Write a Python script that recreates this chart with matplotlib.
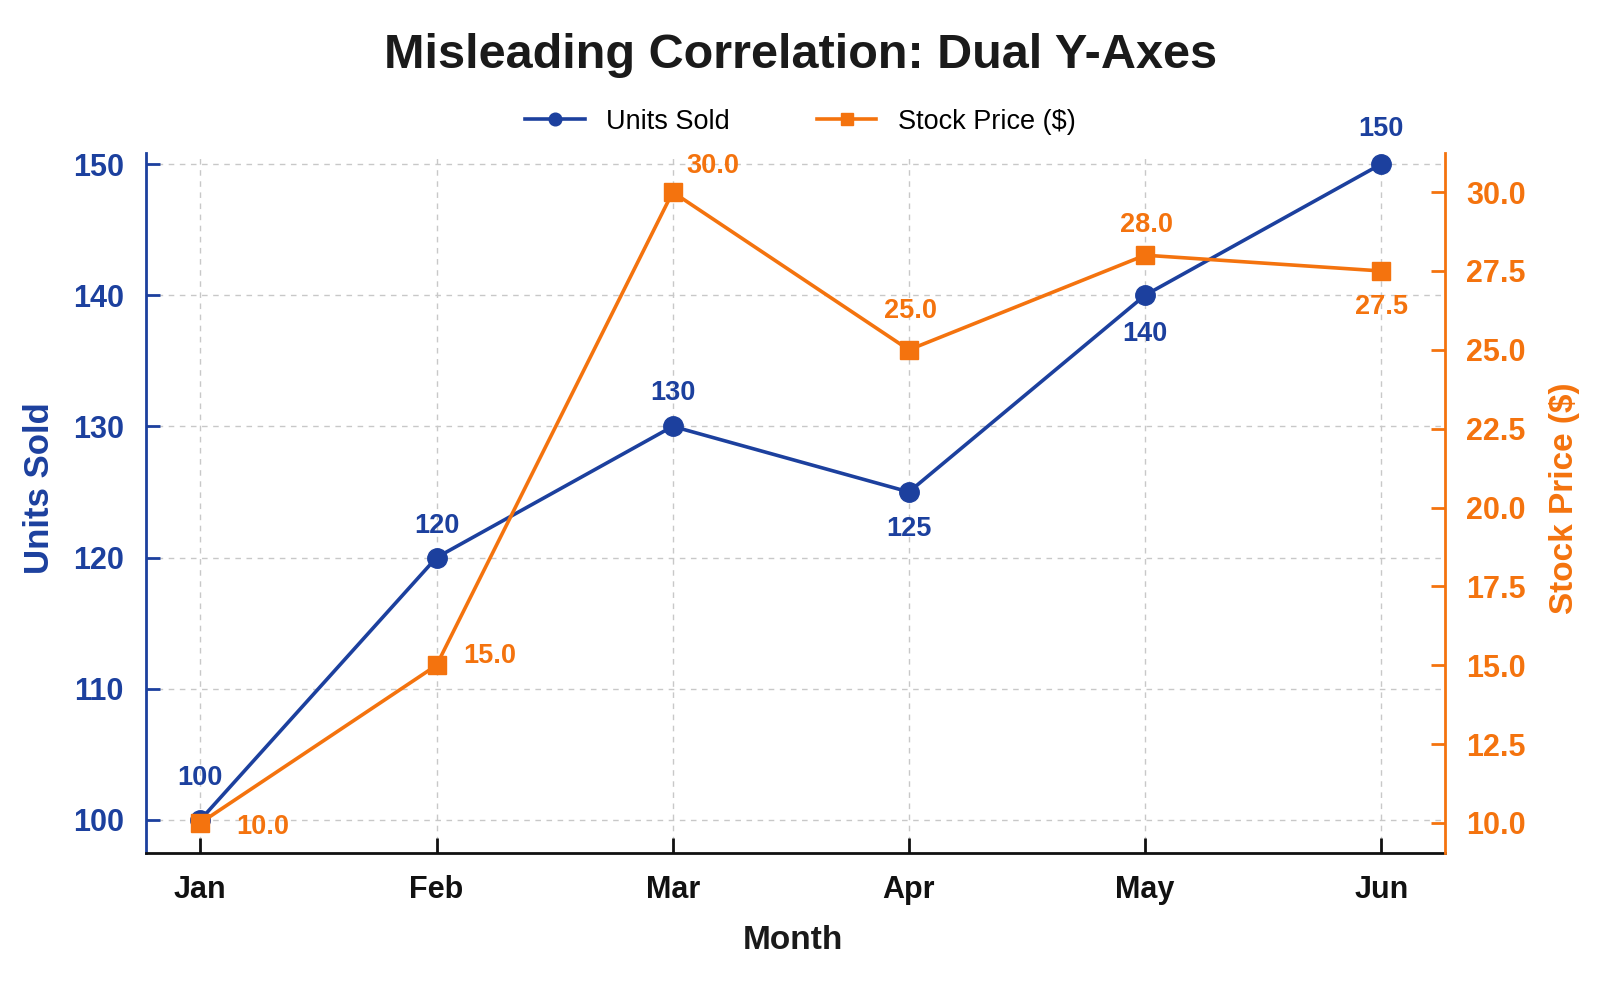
import matplotlib
matplotlib.use("Agg")
import matplotlib.pyplot as plt

plt.rcParams["font.family"] = ["Liberation Sans", "DejaVu Sans"]

months = ["Jan", "Feb", "Mar", "Apr", "May", "Jun"]
units_sold = [100, 120, 130, 125, 140, 150]
stock_price = [10.0, 15.0, 30.0, 25.0, 28.0, 27.5]

BLUE = "#1c409e"
ORANGE = "#f4730e"

# label offsets in points (layout only)
units_offsets = [(0, 30), (0, 23), (0, 24), (0, -27), (0, -28), (0, 25)]
stock_offsets = [(45, -3), (38, 7), (29, 19), (1, 28), (1, 22), (0, -26)]

fig = plt.figure(figsize=(16.01, 9.82), dpi=100)
ax = fig.add_axes([0.0912, 0.1314, 0.8114, 0.7128])
ax2 = ax.twinx()

x = list(range(len(months)))

ax.plot(x, units_sold, color=BLUE, lw=2.6, marker="o", ms=14, zorder=3,
        label="Units Sold")
ax2.plot(x, stock_price, color=ORANGE, lw=2.6, marker="s", ms=13, zorder=3,
         label="Stock Price ($)")

for xi, v, (dx, dy) in zip(x, units_sold, units_offsets):
    ax.annotate(f"{v}", (xi, v), xytext=(dx, dy), textcoords="offset points",
                ha="center", va="center", fontsize=19.5, fontweight="bold",
                color=BLUE)
for xi, v, (dx, dy) in zip(x, stock_price, stock_offsets):
    ax2.annotate(f"{v:.1f}", (xi, v), xytext=(dx, dy), textcoords="offset points",
                 ha="center", va="center", fontsize=19.5, fontweight="bold",
                 color=ORANGE)

ax.set_xlim(-0.23, 5.27)
ax.set_ylim(97.48, 150.84)
ax2.set_ylim(9.05, 31.24)
ax.set_xticks(x)
ax.set_xticklabels(months)
ax.set_yticks([100, 110, 120, 130, 140, 150])
ax2.set_yticks([10.0, 12.5, 15.0, 17.5, 20.0, 22.5, 25.0, 27.5, 30.0])
ax2.set_yticklabels([f"{t:.1f}" for t in ax2.get_yticks()])

ax.grid(True, color="#c8c8c8", linestyle=(0, (4, 4)), linewidth=1)
ax.set_axisbelow(True)

for a in (ax, ax2):
    a.spines["top"].set_visible(False)
ax.spines["right"].set_visible(False)
ax2.spines["left"].set_visible(False)
ax2.spines["bottom"].set_visible(False)
ax.spines["left"].set_color(BLUE)
ax.spines["left"].set_linewidth(2)
ax.spines["bottom"].set_color("#111111")
ax.spines["bottom"].set_linewidth(2)
ax2.spines["right"].set_color(ORANGE)
ax2.spines["right"].set_linewidth(2)

ax.tick_params(axis="y", direction="in", length=10, width=2, color=BLUE,
               labelcolor=BLUE, labelsize=22, pad=16)
ax.tick_params(axis="x", direction="in", length=11, width=2, color="#111111",
               labelcolor="#111111", labelsize=22, pad=16)
ax2.tick_params(axis="y", direction="in", length=10, width=2, color=ORANGE,
                labelcolor=ORANGE, labelsize=22, pad=15)
for lab in ax.get_yticklabels() + ax.get_xticklabels() + ax2.get_yticklabels():
    lab.set_fontweight("bold")

ax.set_ylabel("Units Sold", fontsize=25, fontweight="bold", color=BLUE,
              va="center")
ax.yaxis.set_label_coords(-0.082, 0.521)
ax2.set_ylabel("Stock Price ($)", fontsize=24, fontweight="bold",
               color=ORANGE, va="center")
ax2.yaxis.set_label_coords(1.0916, 0.507)
ax.set_xlabel("Month", fontsize=24, fontweight="bold", color="#1a1a1a",
              va="center")
ax.xaxis.set_label_coords(0.498, -0.125)

fig.suptitle("Misleading Correlation: Dual Y-Axes", fontsize=35,
             fontweight="bold", color="#1a1a1a", x=0.5, y=0.943, va="center")

h1, l1 = ax.get_legend_handles_labels()
h2, l2 = ax2.get_legend_handles_labels()
leg = fig.legend(h1 + h2, l1 + l2, loc="center", bbox_to_anchor=(0.5, 0.876),
                 ncol=2, frameon=False, fontsize=19.5, columnspacing=3.2,
                 handlelength=2.2, markerscale=0.65)

fig.savefig("out.png", dpi=100, facecolor="white")
